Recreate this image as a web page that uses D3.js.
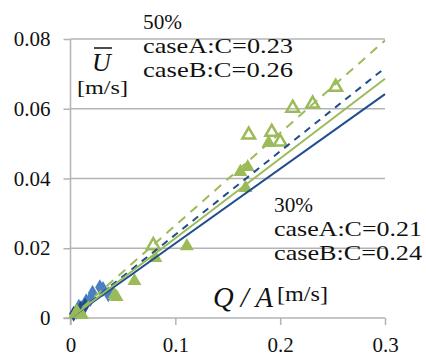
<!DOCTYPE html>
<html>
<head>
<meta charset="utf-8">
<script src="https://cdn.jsdelivr.net/npm/d3@7"></script>
<style>
  body { margin: 0; background: #fff; }
  text { font-family: "Liberation Serif", "DejaVu Serif", serif; fill: #111; }
</style>
</head>
<body>
<div id="chart"></div>
<script>
// 30% points (case A: mid blue diamonds, case B: dark blue)
const blueA = [[0.008, 0.0032], [0.015, 0.0048], [0.019, 0.0055], [0.021, 0.0072], [0.028, 0.0088], [0.031, 0.0083], [0.036, 0.0068], [0.040, 0.0074]];
const blueB = [[0.003, 0.0012], [0.006, 0.0018], [0.010, 0.0028], [0.014, 0.0036]];
// 50% points (case A: filled triangles, case B: open triangles)
const greenA = [[0.007, 0.0012], [0.011, 0.0009], [0.042, 0.0066], [0.044, 0.0060], [0.061, 0.0106], [0.081, 0.0172], [0.111, 0.0206],
                [0.162, 0.0419], [0.169, 0.0433], [0.167, 0.0373], [0.189, 0.0502]];
const greenB = [[0.006, 0.0014], [0.079, 0.0208], [0.170, 0.0525], [0.192, 0.0533], [0.200, 0.0505], [0.212, 0.0602], [0.231, 0.0614], [0.253, 0.0662]];
// fitted lines, start and end
const fitLines = [
  {name: "30% caseA", pts: [[0, 0], [0.3, 0.0642]], color: "#1f4e8f", dash: null},
  {name: "30% caseB", pts: [[0, 0], [0.3, 0.0717]], color: "#1f4e8f", dash: "7,6"},
  {name: "50% caseA", pts: [[0, 0], [0.3, 0.0686]], color: "#9bbb59", dash: null},
  {name: "50% caseB", pts: [[0, 0], [0.3, 0.0796]], color: "#9bbb59", dash: "9,7"}
];
const xTicks = [0, 0.1, 0.2, 0.3];
const yTicks = [0, 0.02, 0.04, 0.06, 0.08];

const width = 426, height = 356;
const x = d3.scaleLinear().domain([0, 0.3]).range([70.5, 385]);
const y = d3.scaleLinear().domain([0, 0.08]).range([318, 39]);

const svg = d3.select("#chart").append("svg")
    .attr("width", width)
    .attr("height", height);

// gridlines
svg.append("g")
  .selectAll("line")
  .data(yTicks.slice(1))
  .join("line")
    .attr("x1", x(0)).attr("x2", x(0.3))
    .attr("y1", d => y(d)).attr("y2", d => y(d))
    .style("stroke", "#b3b3b3")
    .style("stroke-width", 1.5);

// y axis
const yAxis = svg.append("g")
    .attr("transform", "translate(" + x(0) + ",0)")
    .call(d3.axisLeft(y).tickValues(yTicks).tickFormat(d => d === 0 ? "0" : d3.format(".2f")(d)).tickSize(7).tickPadding(13));
yAxis.select(".domain").attr("d", "M0," + y(0.08) + "V" + (y(0) + 7)).style("stroke", "#b3b3b3").style("stroke-width", 1.5);
yAxis.selectAll(".tick line").style("stroke", "#b3b3b3").style("stroke-width", 1.5);
yAxis.selectAll(".tick text").style("font-size", "21px").style("font-family", "Liberation Serif").style("fill", "#111");

// x axis
const xAxis = svg.append("g")
    .attr("transform", "translate(0," + y(0) + ")")
    .call(d3.axisBottom(x).tickValues(xTicks).tickFormat(d => d === 0 ? "0" : d3.format(".1f")(d)).tickSize(7).tickPadding(12));
xAxis.select(".domain").attr("d", "M" + (x(0) - 7) + ",0H" + x(0.3)).style("stroke", "#b3b3b3").style("stroke-width", 1.5);
xAxis.selectAll(".tick line").style("stroke", "#b3b3b3").style("stroke-width", 1.5);
xAxis.selectAll(".tick text").style("font-size", "21px").style("font-family", "Liberation Serif").style("fill", "#111");

// markers
const diamond = d3.symbol().type(d3.symbolDiamond).size(75);
const tri = d3.symbol().type(d3.symbolTriangle).size(85);
const triOpen = d3.symbol().type(d3.symbolTriangle).size(70);

svg.append("g").selectAll("path")
  .data(blueA).join("path")
    .attr("d", diamond)
    .attr("transform", d => "translate(" + x(d[0]) + "," + y(d[1]) + ")")
    .style("fill", "#4a7fc1");

svg.append("g").selectAll("path")
  .data(blueB).join("path")
    .attr("d", diamond)
    .attr("transform", d => "translate(" + x(d[0]) + "," + y(d[1]) + ")")
    .style("fill", "#1f4e8f");

svg.append("g").selectAll("path")
  .data(greenA).join("path")
    .attr("d", tri)
    .attr("transform", d => "translate(" + x(d[0]) + "," + y(d[1]) + ")")
    .style("fill", "#9bbb59");

svg.append("g").selectAll("path")
  .data(greenB).join("path")
    .attr("d", triOpen)
    .attr("transform", d => "translate(" + x(d[0]) + "," + y(d[1]) + ")")
    .style("fill", "none")
    .style("stroke", "#9bbb59")
    .style("stroke-width", 2.5);

// fit lines
const line = d3.line().x(d => x(d[0])).y(d => y(d[1]));
svg.append("g").selectAll("path")
  .data(fitLines).join("path")
    .attr("d", d => line(d.pts))
    .style("fill", "none")
    .style("stroke", d => d.color)
    .style("stroke-width", 2)
    .style("stroke-dasharray", d => d.dash);

// annotations
function label(tx, ty, str, len) {
  svg.append("text")
    .attr("x", tx).attr("y", ty)
    .attr("textLength", len).attr("lengthAdjust", "spacingAndGlyphs")
    .style("font-size", "22px")
    .text(str);
}
label(143, 29, "50%", 39);
label(143, 53, "caseA:C=0.23", 150);
label(143, 77, "caseB:C=0.26", 150);
label(274, 212, "30%", 39);
label(274, 236, "caseA:C=0.21", 148);
label(274, 260, "caseB:C=0.24", 148);

// y label: U bar [m/s]
svg.append("text")
    .attr("x", 92).attr("y", 71)
    .style("font-size", "26px").style("font-style", "italic")
    .text("U");
svg.append("line")
    .attr("x1", 94).attr("x2", 112).attr("y1", 48).attr("y2", 48)
    .style("stroke", "#111").style("stroke-width", 1.5);
svg.append("text")
    .attr("x", 77).attr("y", 94)
    .attr("textLength", 51).attr("lengthAdjust", "spacingAndGlyphs")
    .style("font-size", "19px")
    .text("[m/s]");

// x label: Q/A [m/s]
svg.append("text")
    .attr("x", 213).attr("y", 307)
    .attr("textLength", 60).attr("lengthAdjust", "spacingAndGlyphs")
    .style("font-size", "29px").style("font-style", "italic")
    .text("Q / A");
svg.append("text")
    .attr("x", 277).attr("y", 301)
    .attr("textLength", 51).attr("lengthAdjust", "spacingAndGlyphs")
    .style("font-size", "21px")
    .text("[m/s]");
</script>
</body>
</html>
